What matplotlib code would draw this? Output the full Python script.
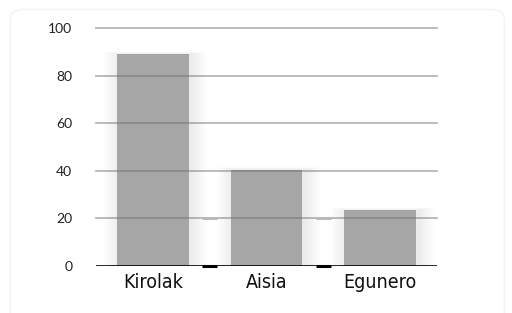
import numpy as np
import matplotlib.pyplot as plt
from matplotlib.patches import FancyBboxPatch, Rectangle

# data
categories = ["Kirolak", "Aisia", "Egunero"]
values = [89, 40.5, 23.5]
yticks = [0, 20, 40, 60, 80, 100]

bar_color = "#a6a6a6"
grid_color = "#6e6e6e"

fig = plt.figure(figsize=(5.12, 3.13), dpi=100)
fig.patch.set_facecolor("white")

# faint rounded frame around the whole figure
frame = FancyBboxPatch((0.02, -0.05), 0.965, 1.02, boxstyle="round,pad=0,rounding_size=0.03",
                       transform=fig.transFigure, facecolor="none",
                       edgecolor="#f3f3f3", linewidth=1.0, zorder=-10)
fig.patches.append(frame)

ax = fig.add_axes([0.1875, 0.150, 0.666, 0.7605])
ax.set_facecolor("none")
ax.set_zorder(5)
x = np.arange(len(categories))
width = 0.63

# soft shadow behind bars
for xi, v in zip(x, values):
    for k in range(20):
        grow = 0.007 * (k + 1)
        ax.add_patch(Rectangle((xi - width / 2 - grow + 0.02, 0), width + 2 * grow,
                               v + grow * 8, facecolor="black", alpha=0.005,
                               linewidth=0, zorder=1))

ax.bar(x, values, width=width, color=bar_color, zorder=2)

# gridlines over the bars
for t in yticks[1:]:
    ax.axhline(t, color=grid_color, alpha=0.5, lw=1.3, zorder=3, clip_on=False)
ax.axhline(0, color="black", lw=1.2, zorder=4)

# small marks between categories
mids = (x[:-1] + x[1:]) / 2
ax.hlines([0] * len(mids), mids - 0.065, mids + 0.065, color="black", lw=2.2,
          zorder=5, clip_on=False)
ax.hlines([20] * len(mids), mids - 0.065, mids + 0.065, color="#b8b8b8", lw=2.2, zorder=5)

ax.set_xlim(-0.5, len(categories) - 0.5)
ax.set_ylim(0, 100)
ax.set_yticks(yticks)
ax.set_yticklabels([str(t) for t in yticks], fontsize=10, family="Lato", color="#222222")
ax.set_xticks(x)
ax.set_xticklabels(categories, fontsize=14, family="DejaVu Sans", stretch="condensed",
                   color="#111111")
ax.tick_params(axis="both", length=0)
ax.tick_params(axis="y", pad=17)
ax.tick_params(axis="x", pad=5)
for s in ax.spines.values():
    s.set_visible(False)

fig.savefig("out.png", dpi=100)
